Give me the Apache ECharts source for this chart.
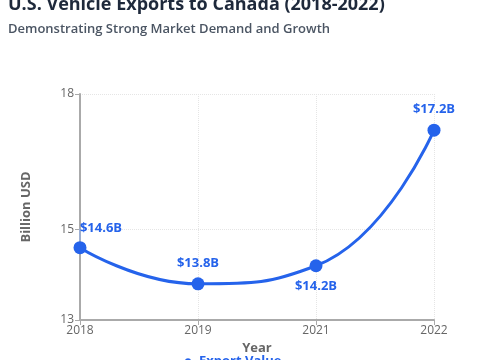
<!DOCTYPE html>
<html>
<head>
<meta charset="utf-8">
<script src="https://cdn.jsdelivr.net/npm/echarts@6/dist/echarts.min.js"></script>
<style>
html,body{margin:0;padding:0;background:#fff;}
#c{width:480px;height:360px;}
</style>
</head>
<body>
<div id="c"></div>
<script>
const years = ['2018', '2019', '2021', '2022'];
const exportValues = [14.6, 13.8, 14.2, 17.2];
const yTicks = [13, 15, 18];
const labelPositions = ['top', 'top', 'bottom', 'top'];

const blue = '#2563eb';
const chart = echarts.init(document.getElementById('c'), null, {renderer: 'canvas'});
chart.setOption({
  animation: false,
  backgroundColor: '#ffffff',
  textStyle: {fontFamily: 'Open Sans'},
  title: {
    text: 'U.S. Vehicle Exports to Canada (2018-2022)',
    subtext: 'Demonstrating Strong Market Demand and Growth',
    left: 3,
    top: -9,
    itemGap: 9,
    textStyle: {fontSize: 18, fontWeight: 'bold', color: '#1e293b', fontFamily: 'Open Sans'},
    subtextStyle: {fontSize: 13, fontWeight: 600, color: '#4b5563', fontFamily: 'Open Sans'}
  },
  grid: {left: 80, right: 46, top: 94, bottom: 35, containLabel: false},
  legend: {
    data: ['Export Value'],
    top: 350,
    left: 176,
    itemWidth: 12,
    itemHeight: 8,
    textStyle: {color: blue, fontWeight: 'bold', fontSize: 13, fontFamily: 'Open Sans'}
  },
  xAxis: {
    type: 'category',
    data: years,
    boundaryGap: false,
    name: 'Year',
    nameLocation: 'middle',
    nameGap: 22,
    nameTextStyle: {fontWeight: 'bold', fontSize: 13, color: '#666'},
    axisLine: {lineStyle: {color: '#aaa', width: 2}},
    axisTick: {show: true, alignWithLabel: true, lineStyle: {color: '#aaa'}},
    axisLabel: {color: '#666', fontSize: 12, margin: 5},
    splitLine: {show: true, lineStyle: {color: '#e5e5e5', type: 'dotted'}}
  },
  yAxis: {
    type: 'value',
    min: 13,
    max: 18,
    name: 'Billion USD',
    nameLocation: 'middle',
    nameGap: 47,
    nameTextStyle: {fontWeight: 'bold', fontSize: 13, color: '#666'},
    axisLine: {show: true, lineStyle: {color: '#aaa', width: 2}},
    axisTick: {show: true, customValues: yTicks, lineStyle: {color: '#aaa'}},
    axisLabel: {customValues: yTicks, color: '#666', fontSize: 12, margin: 6},
    splitLine: {show: true, lineStyle: {color: '#e5e5e5', type: 'dotted'}}
  },
  series: [{
    name: 'Export Value',
    type: 'line',
    smooth: true,
    data: exportValues.map((v, i) => ({
      value: v,
      label: {position: labelPositions[i]},
      labelLine: {show: i === 0}
    })),
    symbol: 'circle',
    symbolSize: 13,
    itemStyle: {color: blue},
    lineStyle: {color: blue, width: 3},
    label: {
      show: true,
      color: blue,
      fontWeight: 'bold',
      fontSize: 13,
      distance: 8,
      formatter: p => '$' + p.value.toFixed(1) + 'B'
    },
    labelLine: {show: true, length2: 0, minTurnAngle: 0, lineStyle: {color: '#93b4f5', width: 1}},
    labelLayout: p => p.dataIndex === 0 ? {dx: 21, dy: 2} : {}
  }]
});
</script>
</body>
</html>
